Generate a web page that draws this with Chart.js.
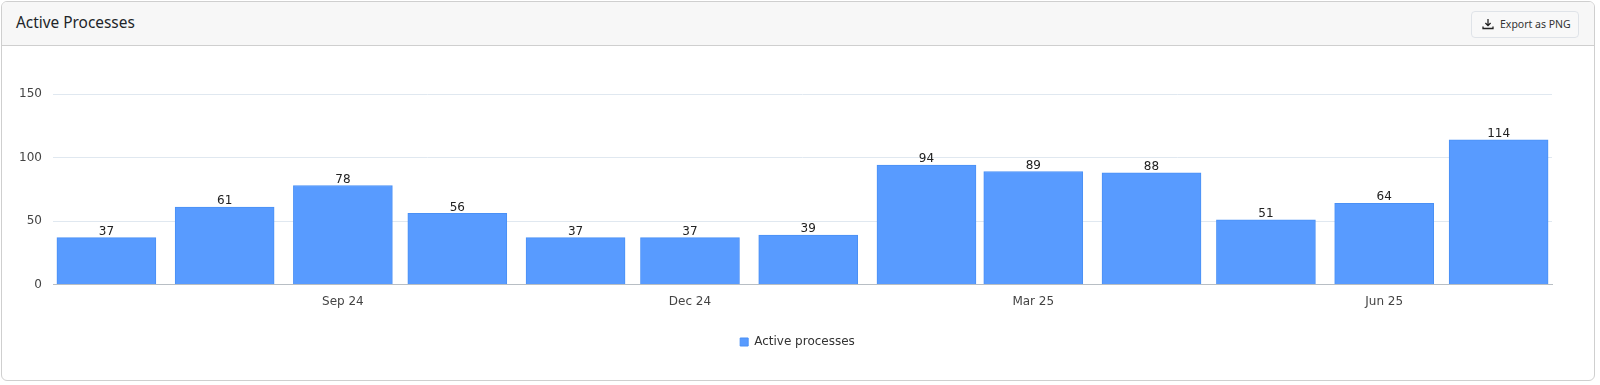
<!DOCTYPE html>
<html>
<head>
<meta charset="utf-8">
<title>Active Processes</title>
<script src="https://cdn.jsdelivr.net/npm/chart.js@4"></script>
<style>
  html, body { margin: 0; padding: 0; background: #fff; width: 1600px; height: 385px; overflow: hidden; }
  .card { position: absolute; left: 1px; top: 1px; width: 1592px; height: 378px; border: 1px solid #cfcfcf; border-radius: 6px; overflow: hidden; }
  .card-header { height: 43px; background: #f7f7f7; border-bottom: 1px solid #cfcfcf; position: relative; }
  .card-title { position: absolute; left: 14px; top: 10px; font: 15.4px/22px "Noto Sans", sans-serif; color: #212529; }
  .export { position: absolute; left: 1469px; top: 9px; width: 106px; height: 25px; border: 1px solid #dfe3e8; border-radius: 4px; background: #f8f8f8; font: 10.5px/25px "Noto Sans", sans-serif; color: #333; box-sizing: content-box; }
  .export svg { position: absolute; left: 10px; top: 6px; }
  .export span { position: absolute; left: 28px; top: 0; white-space: nowrap; }
  .chart-box { position: absolute; left: 0; top: 44px; width: 1592px; height: 334px; }
</style>
</head>
<body>
<div class="card">
  <div class="card-header">
    <div class="card-title">Active Processes</div>
    <div class="export">
      <svg width="12" height="12" viewBox="0 0 12 12" fill="none" stroke="#222" stroke-width="1.3"><path d="M6 1v6.5M3.4 5L6 7.6 8.6 5M1 8.5v2h10v-2"/></svg>
      <span>Export as PNG</span>
    </div>
  </div>
  <div class="chart-box"><canvas id="processChart"></canvas></div>
</div>
<script>
const months = ['2024-07-01', '2024-08-01', '2024-09-01', '2024-10-01', '2024-11-01', '2024-12-01', '2025-01-01',
                '2025-02-01', '2025-03-01', '2025-04-01', '2025-05-01', '2025-06-01', '2025-07-01'];
const activeProcesses = [37, 61, 78, 56, 37, 37, 39, 94, 89, 88, 51, 64, 114];
const tickMonths = ['2024-09-01', '2024-12-01', '2025-03-01', '2025-06-01'];
const tickLabels = ['Sep 24', 'Dec 24', 'Mar 25', 'Jun 25'];
const seriesName = 'Active processes';

const DAY = 86400000;
const monthTimes = months.map(m => Date.parse(m));
const tickTimes = tickMonths.map(m => Date.parse(m));

// value labels above the bars
const barValues = {
    id: 'barValues',
    afterDatasetsDraw(chart) {
        const ctx = chart.ctx;
        ctx.save();
        ctx.font = '12px "DejaVu Sans"';
        ctx.fillStyle = '#222';
        ctx.textAlign = 'center';
        ctx.textBaseline = 'bottom';
        chart.getDatasetMeta(0).data.forEach((bar, i) => {
            ctx.fillText(activeProcesses[i], bar.x, bar.y);
        });
        ctx.restore();
    }
};

// legend sits left of the plot centre in the original
const legendShift = {
    id: 'legendShift',
    afterLayout(chart) {
        chart.legend.left += 20;
        chart.legend.right += 20;
    }
};

new Chart(document.getElementById('processChart'), {
    type: 'bar',
    data: {
        datasets: [{
            label: seriesName,
            data: monthTimes.map((t, i) => ({ x: t, y: activeProcesses[i] })),
            backgroundColor: '#589bff',
            borderColor: '#4a90f5',
            borderWidth: 1,
            barThickness: 99
        }]
    },
    options: {
        responsive: true,
        maintainAspectRatio: false,
        animation: false,
        layout: { padding: { top: 48, right: 42, left: 1, bottom: 22 } },
        scales: {
            x: {
                type: 'linear',
                offset: false,
                min: monthTimes[0] - 14 * DAY,
                max: monthTimes[monthTimes.length - 1] + 14 * DAY,
                afterBuildTicks(axis) {
                    axis.ticks = tickTimes.map(t => ({ value: t }));
                },
                grid: { display: false },
                border: { color: '#b8bec4' },
                ticks: {
                    autoSkip: false,
                    maxRotation: 0,
                    padding: 2,
                    color: '#444',
                    font: { family: '"DejaVu Sans"', size: 12 },
                    callback: value => tickLabels[tickTimes.indexOf(value)]
                }
            },
            y: {
                min: 0,
                max: 150,
                afterFit(axis) { axis.width = 50; },
                grid: { color: '#e0e8f0', drawTicks: false },
                border: { display: false },
                ticks: {
                    stepSize: 50,
                    padding: 11,
                    color: '#444',
                    font: { family: '"DejaVu Sans"', size: 12 }
                }
            }
        },
        plugins: {
            tooltip: { enabled: false },
            legend: {
                position: 'bottom',
                labels: {
                    boxWidth: 8,
                    boxHeight: 8,
                    padding: 25,
                    color: '#333',
                    font: { family: '"DejaVu Sans"', size: 12 }
                }
            }
        }
    },
    plugins: [barValues, legendShift]
});
</script>
</body>
</html>
